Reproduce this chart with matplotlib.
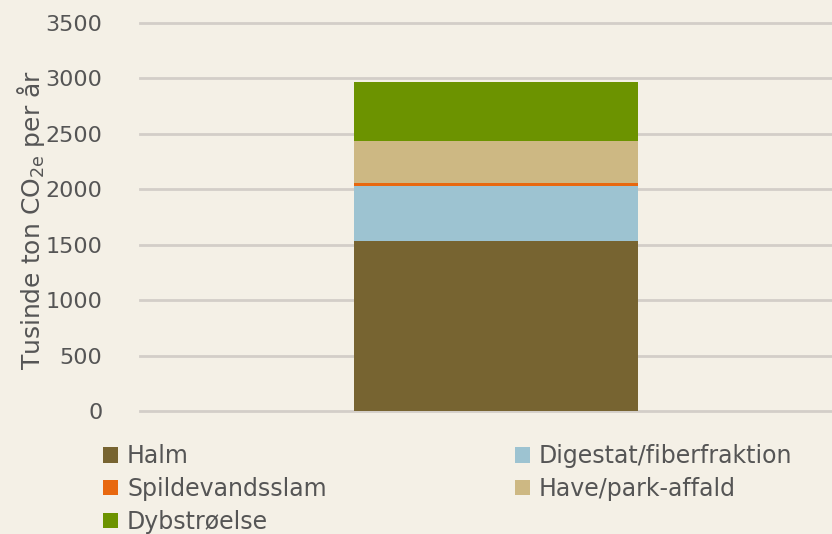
import matplotlib
matplotlib.use("Agg")
import matplotlib.pyplot as plt
from matplotlib.patches import Patch

# Data
categories = ["Halm", "Digestat/fiberfraktion", "Spildevandsslam", "Have/park-affald", "Dybstrøelse"]
values = [1530, 500, 30, 375, 535]
colors = ["#776431", "#9DC3D1", "#E8680F", "#CDB883", "#6C9300"]
yticks = [0, 500, 1000, 1500, 2000, 2500, 3000, 3500]

bg = "#F4F0E6"
txt = "#555555"

plt.rcParams["font.family"] = ["DejaVu Sans"]

fig = plt.figure(figsize=(8.32, 5.34), dpi=100, facecolor=bg)
ax = fig.add_axes([140 / 832, 1 - 411 / 534, 1 - 140 / 832, (411 - 23) / 534])
ax.set_facecolor(bg)

bottom = 0
for cat, val, col in zip(categories, values, colors):
    ax.bar(0, val, width=284, bottom=bottom, color=col, zorder=3)
    bottom += val

ax.set_xlim(-356, 336)
ax.set_ylim(0, 3500)
ax.set_yticks(yticks)
ax.set_xticks([])
ax.tick_params(axis="y", length=0, pad=27, labelsize=16, labelcolor=txt)
for s in ax.spines.values():
    s.set_visible(False)
ax.yaxis.grid(True, color="#D3CEC8", linewidth=2, zorder=0)
for gl in ax.get_ygridlines():
    gl.set_clip_on(False)

fig.text(31 / 832, 1 - 220 / 534, "Tusinde ton CO$_{\\mathregular{2e}}$ per år",
         rotation=90, ha="center", va="center", fontsize=18, color=txt)

# Legend: column-major order to get row-wise reading
order = [0, 2, 4, 1, 3]
handles = [Patch(facecolor=colors[i], label=categories[i]) for i in order]
leg = fig.legend(handles=handles, ncol=2, loc="upper left",
                 bbox_to_anchor=(103 / 832, 1 - 444 / 534), frameon=False,
                 fontsize=17, labelcolor=txt, handlelength=0.64, handleheight=0.64,
                 handletextpad=0.38, columnspacing=7.96, labelspacing=0.38,
                 borderaxespad=0, borderpad=0)

fig.savefig("out.png", dpi=100, facecolor=bg)
